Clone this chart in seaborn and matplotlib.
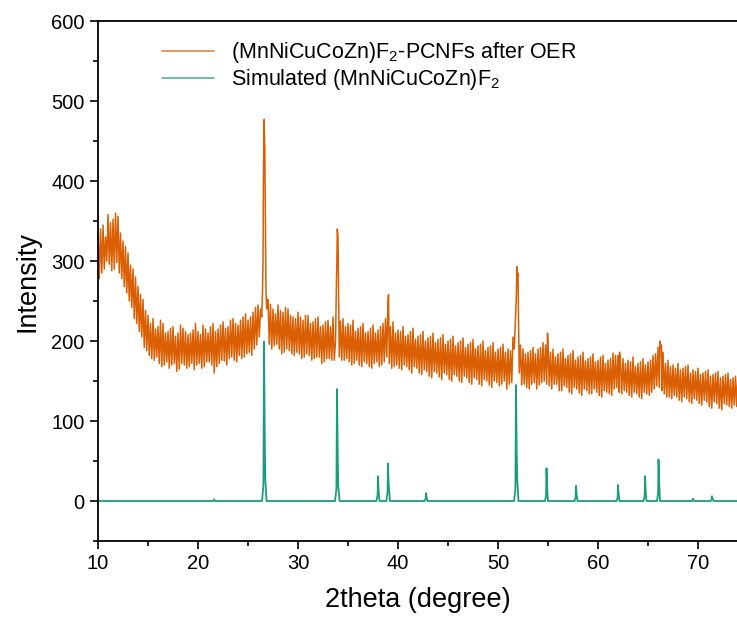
# %%
import numpy as np
import pandas as pd
import seaborn as sns
import matplotlib.pyplot as plt
from matplotlib.ticker import MultipleLocator

sns.set_theme(style="ticks")
plt.rcParams['font.family'] = ['Liberation Sans', 'DejaVu Sans']
plt.rcParams['mathtext.default'] = 'regular'
plt.rcParams['text.color'] = 'black'
plt.rcParams['axes.labelcolor'] = 'black'

# %%
# measured pattern, read off the picture
# upper side of the noise band, every 0.5 deg from 10
obs_hi = [335, 345, 358, 352, 356, 325, 310, 290, 268, 252,
          232, 228, 218, 222, 212, 218, 210, 216, 208, 214,
          212, 220, 210, 222, 215, 224, 218, 228, 220, 230,
          226, 236, 245, 300, 252, 240, 245, 236, 240, 230,
          236, 226, 232, 224, 230, 220, 226, 230, 330, 228,
          222, 226, 216, 222, 212, 220, 214, 222, 250, 224,
          214, 218, 208, 216, 206, 212, 204, 210, 202, 208,
          200, 206, 198, 204, 196, 202, 194, 200, 192, 198,
          190, 196, 190, 205, 285, 190, 186, 192, 190, 198,
          200, 190, 184, 190, 182, 188, 180, 186, 178, 184,
          176, 182, 176, 185, 182, 178, 176, 180, 172, 178,
          174, 182, 192, 186, 176, 170, 172, 166, 170, 164,
          166, 160, 164, 158, 162, 156, 160, 154, 158]
# lower side, every 0.5 deg from 10.125
obs_lo = [278, 290, 296, 290, 285, 268, 250, 228, 212, 192,
          182, 176, 172, 170, 166, 172, 165, 170, 168, 164,
          172, 168, 174, 160, 172, 175, 178, 176, 182, 180,
          186, 190, 205, 470, 196, 194, 190, 186, 188, 182,
          184, 180, 182, 178, 180, 174, 178, 176, 180, 176,
          174, 172, 170, 174, 168, 172, 168, 174, 172, 168,
          166, 170, 164, 168, 160, 164, 156, 162, 155, 160,
          152, 158, 150, 156, 148, 154, 146, 152, 145, 150,
          144, 150, 146, 190, 160, 146, 140, 148, 145, 150,
          144, 146, 138, 144, 136, 142, 135, 140, 134, 140,
          132, 138, 134, 140, 136, 138, 132, 136, 130, 136,
          132, 140, 142, 134, 130, 132, 126, 130, 124, 128,
          122, 126, 118, 124, 116, 122, 118, 120, 116]
# upper side, every 0.5 deg from 10.25
obs_hi2 = [340, 330, 348, 360, 335, 318, 295, 280, 258, 238,
           222, 215, 226, 210, 216, 206, 220, 212, 210, 222,
           208, 215, 218, 212, 220, 216, 226, 222, 226, 234,
           230, 242, 240, 330, 246, 234, 238, 242, 232, 228,
           230, 232, 222, 228, 218, 224, 218, 200, 225, 218,
           220, 212, 218, 210, 216, 210, 218, 228, 218, 210,
           212, 206, 212, 202, 208, 200, 206, 198, 204, 196,
           202, 194, 200, 192, 198, 190, 196, 188, 194, 186,
           192, 186, 188, 230, 195, 184, 188, 184, 192, 195,
           186, 180, 186, 178, 184, 176, 182, 175, 180, 174,
           180, 172, 178, 182, 176, 172, 174, 168, 174, 170,
           176, 184, 190, 172, 168, 166, 164, 168, 160, 162,
           158, 162, 156, 160, 154, 158, 152, 156, 150]
# lower side, every 0.5 deg from 10.375
obs_lo2 = [285, 300, 288, 298, 278, 260, 242, 222, 205, 188,
           178, 180, 168, 174, 170, 162, 172, 166, 172, 170,
           166, 174, 170, 168, 176, 170, 180, 174, 178, 184,
           182, 195, 230, 240, 190, 196, 184, 190, 184, 186,
           178, 184, 176, 180, 172, 178, 176, 290, 176, 178,
           170, 176, 168, 172, 166, 174, 170, 180, 166, 170,
           164, 168, 160, 166, 158, 162, 154, 160, 152, 158,
           150, 156, 148, 154, 146, 152, 144, 150, 142, 148,
           146, 140, 148, 280, 145, 142, 146, 140, 148, 146,
           140, 146, 138, 142, 134, 140, 132, 138, 134, 136,
           130, 136, 132, 142, 134, 136, 130, 134, 128, 134,
           136, 144, 138, 130, 128, 130, 124, 128, 122, 126,
           120, 124, 116, 122, 114, 120, 116, 118, 112]
# sharp reflections of the measured pattern
obs_peak_x = [26.45, 26.55, 26.62, 26.68, 26.8, 33.85, 33.93, 34.05, 38.95, 39.05,
              51.82, 51.88, 51.95, 52.05, 54.95, 62.15, 66.2, 66.35]
obs_peak_y = [262, 420, 477, 440, 260, 280, 340, 270, 225, 258,
              250, 293, 280, 230, 210, 186, 200, 195]

# simulated pattern
sim_x = [10, 21.5, 21.6, 21.7,
         26.4, 26.54, 26.6, 26.67, 26.72, 26.85,
         33.7, 33.84, 33.9, 33.97, 34.02, 34.15,
         37.85, 37.96, 38.0, 38.05, 38.15,
         38.85, 38.96, 39.0, 39.06, 39.2,
         42.65, 42.76, 42.8, 42.86, 42.95,
         51.6, 51.74, 51.8, 51.87, 51.93, 52.05,
         54.7, 54.8, 54.85, 54.92, 55.0,
         57.65, 57.76, 57.8, 57.86, 57.95,
         61.85, 61.96, 62.0, 62.06, 62.15,
         64.55, 64.66, 64.7, 64.77, 64.85,
         65.9, 66.01, 66.05, 66.12, 66.2,
         69.4, 69.5, 69.6,
         71.25, 71.36, 71.4, 71.46, 71.55, 74]
sim_y = [0, 0, 2, 0,
         0, 20, 199, 90, 30, 0,
         0, 15, 140, 60, 20, 0,
         0, 8, 31, 14, 0,
         0, 12, 47, 22, 0,
         0, 3, 10, 5, 0,
         0, 15, 145, 60, 25, 0,
         0, 6, 41, 15, 0,
         0, 4, 19, 8, 0,
         0, 4, 20, 9, 0,
         0, 6, 31, 12, 0,
         0, 10, 52, 22, 0,
         0, 3, 0,
         0, 2, 6, 3, 0, 0]

label_obs = r'(MnNiCuCoZn)F$_2$-PCNFs after OER'
label_sim = r'Simulated (MnNiCuCoZn)F$_2$'

# %%
step = 0.5 * np.arange(len(obs_hi))
obs = pd.DataFrame({
    'theta': np.concatenate([10 + step, 10.125 + step, 10.25 + step, 10.375 + step, obs_peak_x]),
    'intensity': np.concatenate([obs_hi, obs_lo, obs_hi2, obs_lo2, obs_peak_y]),
}).sort_values('theta')
sim = pd.DataFrame({'theta': sim_x, 'intensity': sim_y})

# %%
fig = plt.figure(figsize=(7.37, 6.28), dpi=100)
ax = fig.add_axes([0.133, 0.1385, 0.867, 0.828])

sns.lineplot(data=obs, x='theta', y='intensity', ax=ax, color='#D95F02',
             lw=1.1, estimator=None, sort=False, label=label_obs)
sns.lineplot(data=sim, x='theta', y='intensity', ax=ax, color='#1B9E77',
             lw=1.3, estimator=None, sort=False, label=label_sim)

ax.set_xlim(10, 73.9)
ax.set_ylim(-50, 600)
ax.xaxis.set_major_locator(MultipleLocator(10))
ax.xaxis.set_minor_locator(MultipleLocator(5))
ax.yaxis.set_major_locator(MultipleLocator(100))
ax.yaxis.set_minor_locator(MultipleLocator(50))
ax.tick_params(which='major', direction='out', length=6, width=1.2,
               labelsize=14.5, colors='black', top=False, right=False)
ax.tick_params(which='minor', direction='out', length=3.5, width=1.2,
               colors='black', top=False, right=False)
for s in ['left', 'bottom', 'top']:
    ax.spines[s].set_linewidth(1.3)
    ax.spines[s].set_color('black')
ax.spines['right'].set_visible(False)

ax.set_xlabel('2theta (degree)', fontsize=19.5, labelpad=10, color='black')
ax.set_ylabel('Intensity', fontsize=19.5, labelpad=8, color='black')

leg = ax.legend(loc='upper left', bbox_to_anchor=(0.07, 1.0), frameon=False,
                fontsize=15.5, handlelength=2.4, labelspacing=0.08)
for h in leg.get_lines():
    h.set_linewidth(1.3)
    h.set_alpha(0.7)
for t in leg.get_texts():
    t.set_color('black')

fig.savefig('out.png', dpi=100)
